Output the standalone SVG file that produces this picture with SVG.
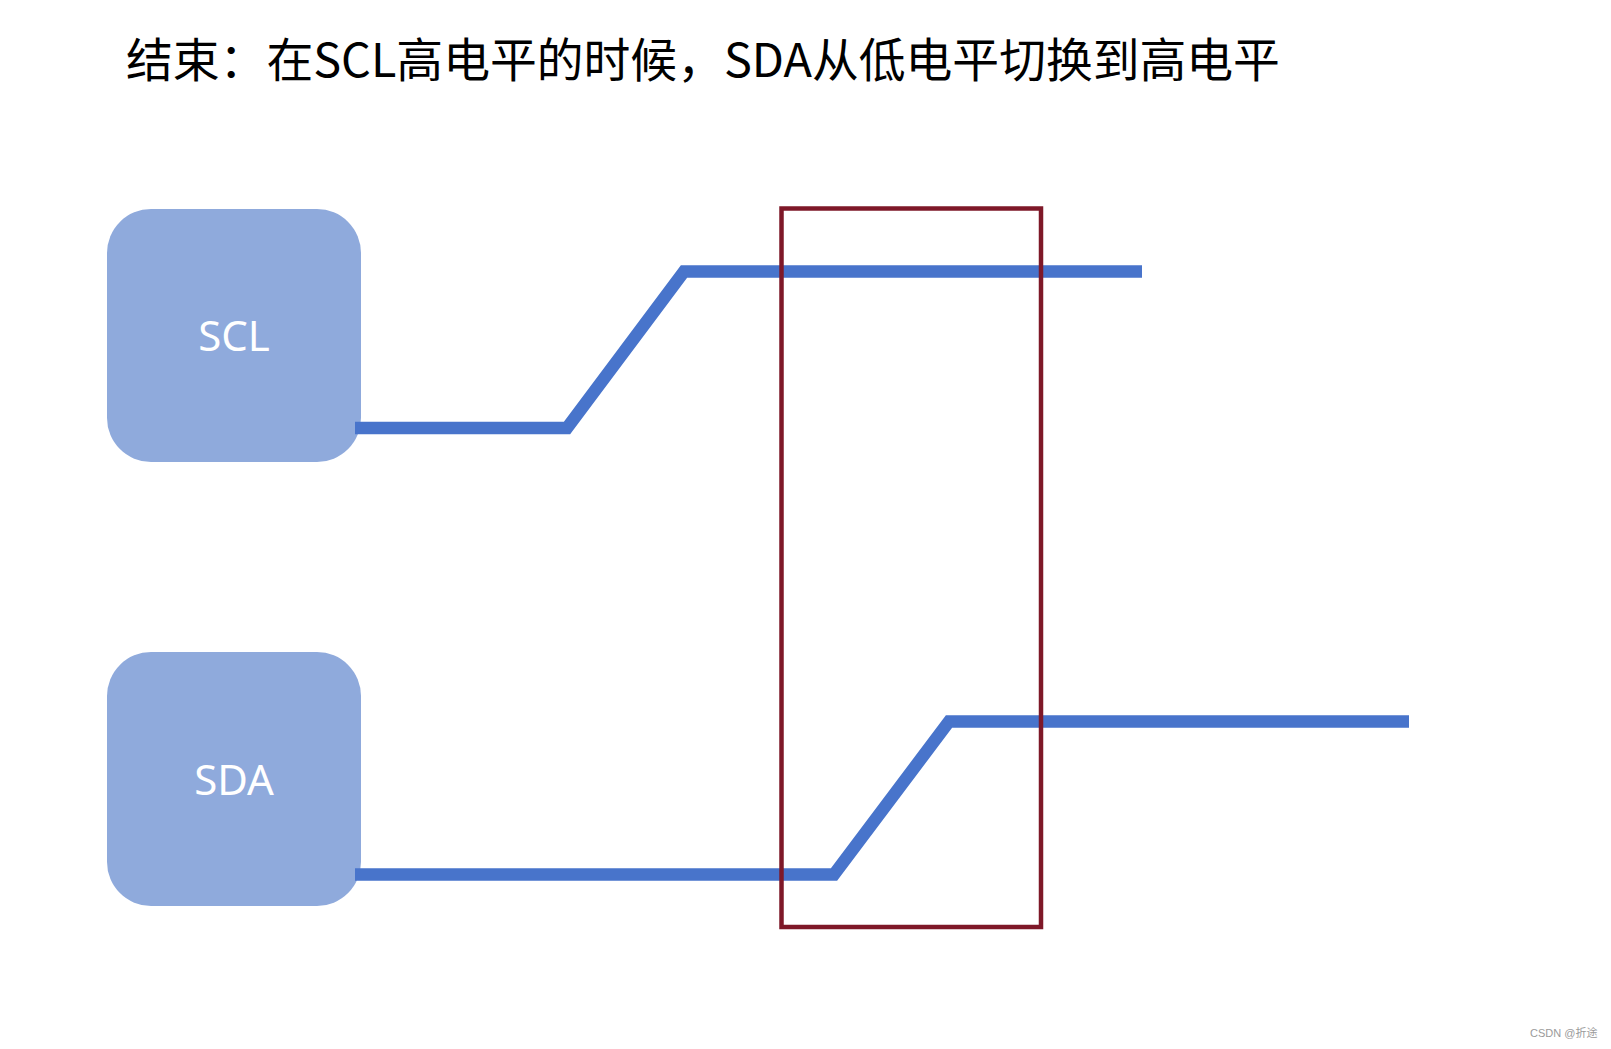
<svg xmlns="http://www.w3.org/2000/svg" width="1611" height="1049" viewBox="0 0 1611 1049">
  <style>
    .box { fill: #8faadc; }
    .lbl { font-family: "Noto Sans", "Open Sans", sans-serif; font-size: 42px; fill: #ffffff; text-anchor: middle; }
    .wave { fill: none; stroke: #4874cb; stroke-width: 12.5; stroke-linejoin: miter; stroke-linecap: butt; }
    .title { font-family: "Noto Sans CJK SC", "Noto Sans", sans-serif; font-size: 46.8px; fill: #000000; }
    .hl { fill: none; stroke: #7e1828; stroke-width: 4.5; }
    .wm { font-family: "Liberation Sans", "Noto Sans CJK SC", sans-serif; font-size: 11px; fill: #9a9a9a; }
  </style>
  <rect width="1611" height="1049" fill="#ffffff"/>
  <text class="title" x="126" y="77">结束：在SCL高电平的时候，SDA从低电平切换到高电平</text>
  <g id="node-scl">
    <rect class="box" x="107" y="209" width="254" height="253" rx="44" ry="44"/>
    <text class="lbl" x="234" y="351">SCL</text>
  </g>
  <g id="node-sda">
    <rect class="box" x="107" y="652" width="254" height="254" rx="44" ry="44"/>
    <text class="lbl" x="234" y="795">SDA</text>
  </g>
  <g id="connectors">
    <polyline class="wave" points="355,428 567,428 684,271.5 1142,271.5"/>
    <polyline class="wave" points="355,874.5 834,874.5 949,721.5 1409,721.5"/>
  </g>
  <g id="highlight">
    <rect class="hl" x="781.5" y="208.5" width="259.5" height="718.5"/>
  </g>
  <text class="wm" x="1530" y="1037">CSDN @折途</text>
</svg>
